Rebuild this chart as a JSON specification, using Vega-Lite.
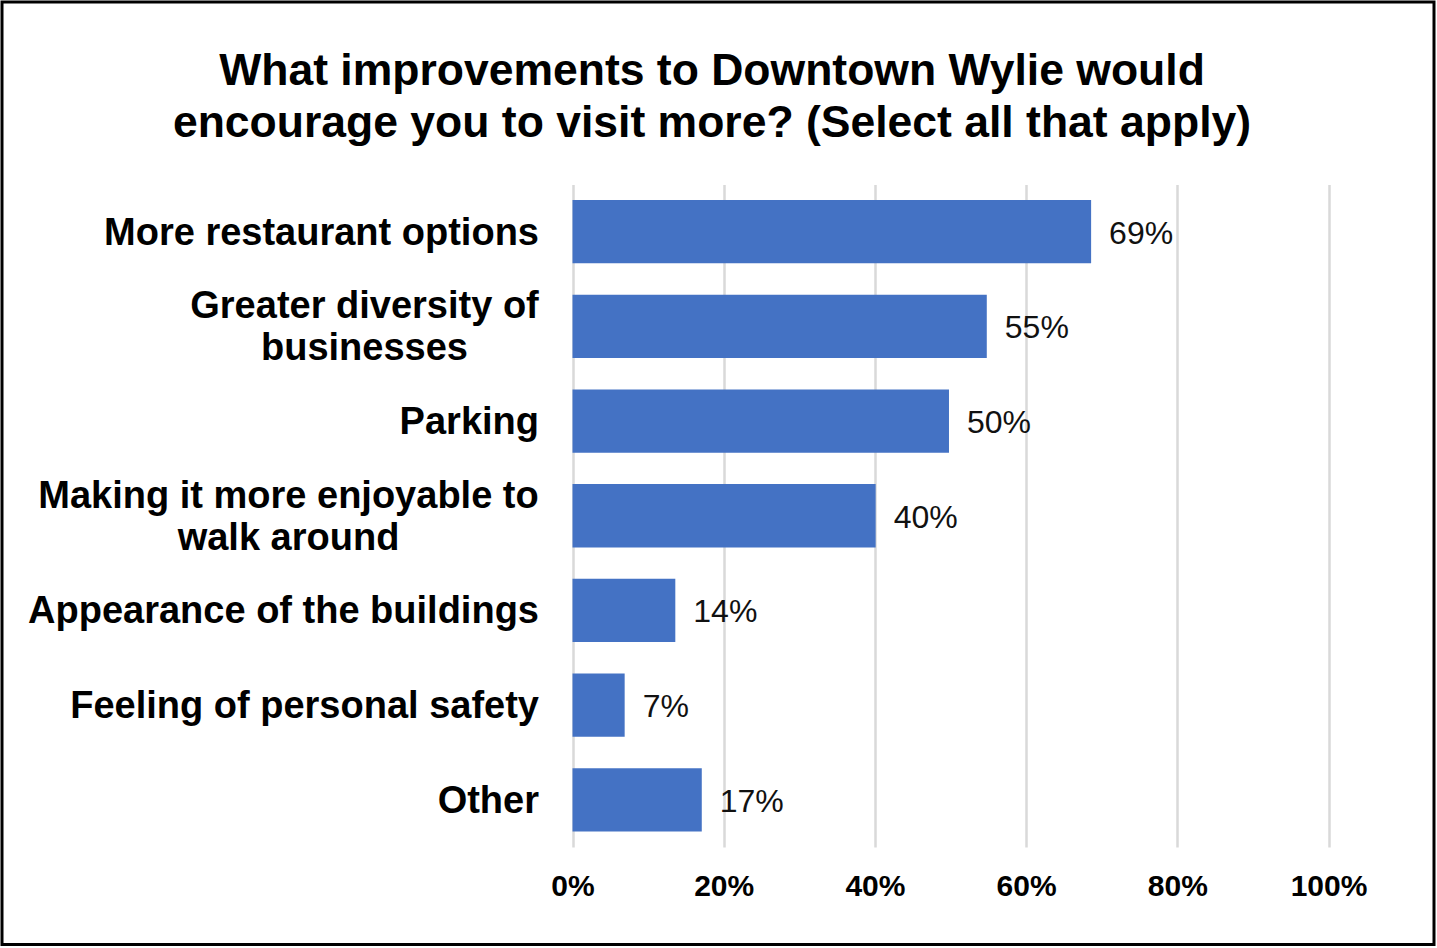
{
  "$schema": "https://vega.github.io/schema/vega-lite/v6.json",
  "width": 1432,
  "height": 942.5,
  "autosize": {"type": "none"},
  "padding": {"left": 2, "top": 2, "right": 3, "bottom": 3.5},
  "background": "white",
  "config": {
    "font": "Liberation Sans",
    "view": {"stroke": "#000000", "strokeWidth": 3}
  },
  "title": {
    "text": ["What improvements to Downtown Wylie would", "encourage you to visit more? (Select all that apply)"],
    "fontSize": 44.5,
    "fontWeight": "bold",
    "color": "#000000",
    "font": "Liberation Sans",
    "lineHeight": 52,
    "baseline": "alphabetic",
    "anchor": "middle",
    "frame": "group",
    "dx": -6,
    "offset": -179
  },
  "data": {
    "values": [
      {"option": "More restaurant options", "share": 0.686},
      {"option": "Greater diversity of businesses", "share": 0.548},
      {"option": "Parking", "share": 0.498},
      {"option": "Making it more enjoyable to walk around", "share": 0.401},
      {"option": "Appearance of the buildings", "share": 0.136},
      {"option": "Feeling of personal safety", "share": 0.069},
      {"option": "Other", "share": 0.171}
    ]
  },
  "encoding": {
    "y": {
      "field": "option",
      "type": "nominal",
      "sort": null,
      "scale": {"range": [182.5, 845], "paddingInner": 0.332, "paddingOuter": 0.164},
      "axis": {
        "title": null,
        "orient": "left",
        "offset": -570.5,
        "domain": false,
        "ticks": false,
        "grid": false,
        "labelFontSize": 38,
        "labelFontWeight": "bold",
        "labelColor": "#000000",
        "labelFont": "Liberation Sans",
        "labelLimit": 0,
        "labelLineHeight": 42,
        "labelBaseline": "middle",
        "labelPadding": {
          "condition": [
            {"test": "datum.value == 'Greater diversity of businesses'", "value": 208.5},
            {"test": "datum.value == 'Making it more enjoyable to walk around'", "value": 284.5}
          ],
          "value": 34
        },
        "labelAlign": {
          "condition": {"test": "datum.value == 'Greater diversity of businesses' || datum.value == 'Making it more enjoyable to walk around'", "value": "center"},
          "value": "right"
        },
        "labelOffset": {
          "condition": {"test": "datum.value == 'Greater diversity of businesses' || datum.value == 'Making it more enjoyable to walk around'", "value": -19},
          "value": 2
        },
        "labelExpr": "datum.value == 'Greater diversity of businesses' ? ['Greater diversity of', 'businesses'] : datum.value == 'Making it more enjoyable to walk around' ? ['Making it more enjoyable to', 'walk around'] : datum.value"
      }
    }
  },
  "layer": [
    {
      "mark": {"type": "bar", "color": "#4472C4"},
      "encoding": {
        "x": {
          "field": "share",
          "type": "quantitative",
          "scale": {"domain": [0, 1], "range": [570.5, 1326.5], "nice": false, "zero": true},
          "axis": {
            "title": null,
            "orient": "top",
            "offset": 0,
            "values": [0, 0.2, 0.4, 0.6, 0.8, 1],
            "domain": false,
            "ticks": false,
            "labels": false,
            "grid": true,
            "gridColor": "#d9d9d9",
            "gridWidth": 2.5
          }
        }
      }
    },
    {
      "mark": {"type": "text", "align": "left", "baseline": "middle", "dx": 18, "dy": 2, "fontSize": 32, "color": "#111111", "font": "Liberation Sans"},
      "encoding": {
        "x": {
          "field": "share",
          "type": "quantitative",
          "scale": {"domain": [0, 1], "range": [570.5, 1326.5], "nice": false, "zero": true},
          "axis": {
            "title": null,
            "orient": "bottom",
            "offset": -97.5,
            "values": [0, 0.2, 0.4, 0.6, 0.8, 1],
            "format": ".0%",
            "domain": false,
            "ticks": false,
            "grid": false,
            "labelFontSize": 30,
            "labelFontWeight": "bold",
            "labelColor": "#000000",
            "labelFont": "Liberation Sans",
            "labelPadding": 39,
            "labelBaseline": "middle",
            "labelFlush": false
          }
        },
        "text": {"field": "share", "type": "quantitative", "format": ".0%"}
      }
    }
  ],
  "resolve": {"axis": {"x": "independent"}}
}
